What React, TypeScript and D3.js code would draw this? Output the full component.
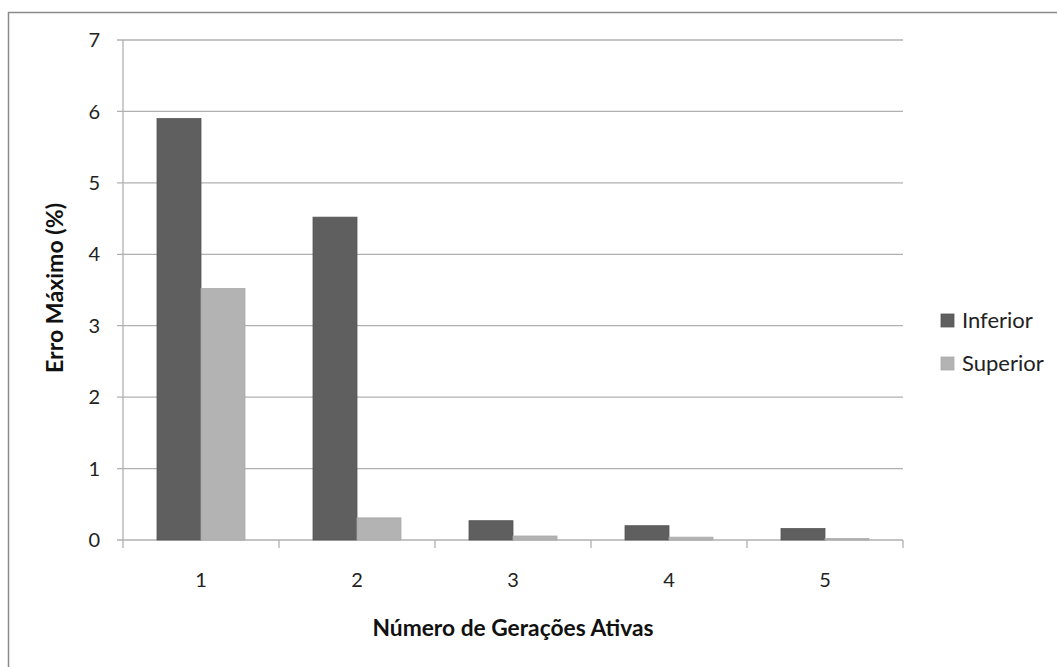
import React from "react";
import * as d3 from "d3";

const categories = ["1", "2", "3", "4", "5"];
const seriesNames = ["Inferior", "Superior"];
const inferior = [5.9, 4.52, 0.27, 0.2, 0.16];
const superior = [3.52, 0.31, 0.056, 0.04, 0.02];
const yTicks = [0, 1, 2, 3, 4, 5, 6, 7];
const colors = ["#5f5f5f", "#b3b3b3"];
const strokes = ["#555555", "#aaaaaa"];

const W = 1057;
const H = 667;
const FONT = "Lato, 'Open Sans', sans-serif";

export default function App() {
  const x = d3.scaleBand<string>().domain(categories).range([123, 903]).paddingInner(0).paddingOuter(0);
  const xi = d3.scaleBand<string>().domain(seriesNames).range([0, x.bandwidth()]).paddingInner(0).paddingOuter(0.773);
  const y = d3.scaleLinear().domain([0, 7]).range([540, 40]);
  const series = [inferior, superior];
  const boundaries = [...categories.map((c) => x(c) as number), 903];

  return (
    <svg width={W} height={H} style={{ position: "absolute", left: 0, top: 0, background: "#fff" }}>
      <rect x={8.5} y={12.5} width={1200} height={800} fill="#fff" stroke="#8a8a8a" strokeWidth={1.5} />
      {yTicks.map((t) => (
        <g key={t}>
          <line x1={117} x2={903} y1={y(t)} y2={y(t)} stroke="#b0b0b0" strokeWidth={1.3} />
          <text x={100} y={y(t)} dy="0.36em" textAnchor="end" fontFamily={FONT} fontSize={20} fill="#222">
            {t}
          </text>
        </g>
      ))}
      <line x1={123} x2={123} y1={40} y2={540} stroke="#b0b0b0" strokeWidth={1.3} />
      {boundaries.map((b, i) => (
        <line key={i} x1={b} x2={b} y1={540} y2={548} stroke="#b0b0b0" strokeWidth={1.3} />
      ))}
      {series.map((vals, si) =>
        vals.map((v, ci) => (
          <rect
            key={si + "-" + ci}
            x={(x(categories[ci]) as number) + (xi(seriesNames[si]) as number)}
            y={y(v)}
            width={xi.bandwidth()}
            height={y(0) - y(v)}
            fill={colors[si]}
            stroke={strokes[si]}
            strokeWidth={0.8}
          />
        ))
      )}
      {categories.map((c) => (
        <text key={c} x={(x(c) as number) + x.bandwidth() / 2} y={587} textAnchor="middle" fontFamily={FONT} fontSize={20} fill="#222">
          {c}
        </text>
      ))}
      <text x={513} y={636} textAnchor="middle" fontFamily={FONT} fontSize={22} fontWeight="bold" fill="#111" textLength={281} lengthAdjust="spacingAndGlyphs">
        Número de Gerações Ativas
      </text>
      <text transform="translate(63,288) rotate(-90)" textAnchor="middle" fontFamily={FONT} fontSize={22} fontWeight="bold" fill="#111" textLength={170} lengthAdjust="spacingAndGlyphs">
        Erro Máximo (%)
      </text>
      {seriesNames.map((s, i) => (
        <g key={s}>
          <rect x={941} y={314 + i * 43} width={13} height={13} fill={colors[i]} stroke={strokes[i]} strokeWidth={0.8} />
          <text x={962} y={328 + i * 43} fontFamily={FONT} fontSize={22} fill="#222">
            {s}
          </text>
        </g>
      ))}
    </svg>
  );
}
